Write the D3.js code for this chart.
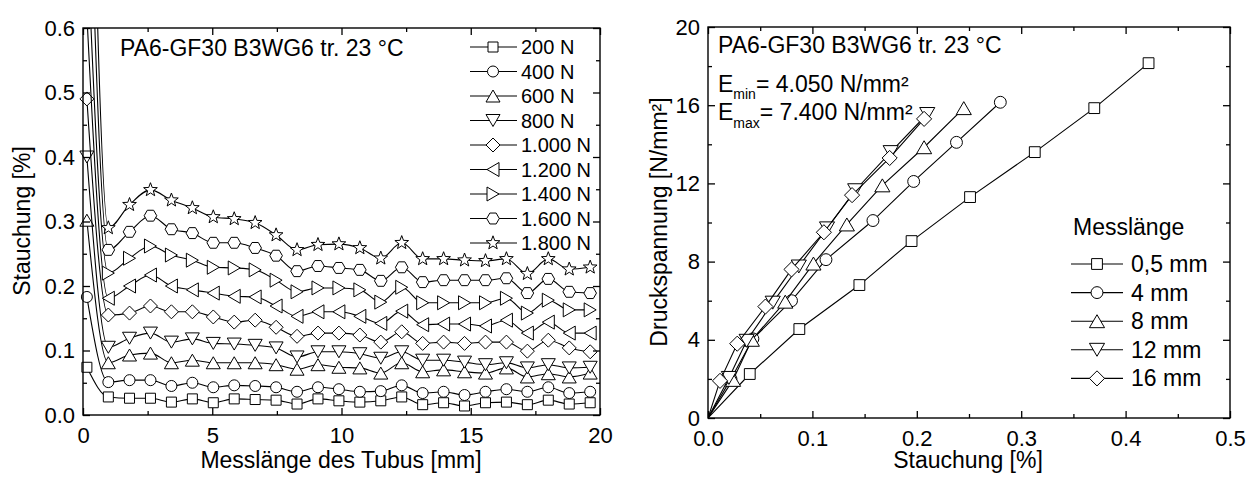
<!DOCTYPE html>
<html>
<head>
<meta charset="utf-8">
<script src="https://cdn.jsdelivr.net/npm/d3@7"></script>
<style>
html, body { margin: 0; padding: 0; background: #fff; }
svg { display: block; font-family: "Liberation Sans", Arial, sans-serif; }
</style>
</head>
<body>
<div id="playground"></div>
<script>
// ---- left chart: strain along the tube, one series per load ----
var tubePos = [0.15, 0.98, 1.8, 2.61, 3.42, 4.23, 5.04, 5.85, 6.66, 7.47, 8.28, 9.09, 9.9,
               10.71, 11.52, 12.33, 13.14, 13.95, 14.76, 15.57, 16.38, 17.19, 18.0, 18.81, 19.62];
var loads = ["200 N", "400 N", "600 N", "800 N", "1.000 N", "1.200 N", "1.400 N", "1.600 N", "1.800 N"];
var loadSymbols = ["square", "circle", "up", "down", "diamond", "left", "right", "hexagon", "star"];

var strain200  = [0.074, 0.028, 0.026, 0.026, 0.020, 0.025, 0.019, 0.025, 0.024, 0.023, 0.017, 0.025, 0.022, 0.020, 0.022, 0.028, 0.016, 0.019, 0.014, 0.019, 0.020, 0.016, 0.023, 0.017, 0.019];
var strain400  = [0.183, 0.051, 0.054, 0.054, 0.045, 0.050, 0.043, 0.046, 0.045, 0.043, 0.036, 0.043, 0.040, 0.036, 0.037, 0.046, 0.034, 0.036, 0.031, 0.036, 0.040, 0.036, 0.043, 0.034, 0.036];
var strain600  = [0.302, 0.081, 0.093, 0.096, 0.081, 0.085, 0.081, 0.081, 0.081, 0.078, 0.071, 0.078, 0.074, 0.073, 0.065, 0.081, 0.067, 0.070, 0.067, 0.065, 0.073, 0.059, 0.064, 0.059, 0.065];
var strain800  = [0.400, 0.105, 0.119, 0.127, 0.113, 0.118, 0.111, 0.110, 0.108, 0.104, 0.090, 0.098, 0.098, 0.095, 0.088, 0.098, 0.085, 0.085, 0.082, 0.078, 0.081, 0.073, 0.078, 0.073, 0.074];
var strain1000 = [0.490, 0.155, 0.158, 0.169, 0.160, 0.160, 0.152, 0.144, 0.147, 0.136, 0.122, 0.127, 0.127, 0.124, 0.113, 0.129, 0.111, 0.113, 0.111, 0.113, 0.113, 0.099, 0.116, 0.104, 0.098];
var strain1200 = [0.62, 0.181, 0.200, 0.217, 0.200, 0.194, 0.189, 0.184, 0.183, 0.169, 0.153, 0.160, 0.160, 0.153, 0.142, 0.161, 0.140, 0.141, 0.141, 0.138, 0.147, 0.127, 0.144, 0.127, 0.127];
var strain1400 = [0.75, 0.220, 0.243, 0.262, 0.248, 0.240, 0.229, 0.228, 0.225, 0.209, 0.191, 0.197, 0.197, 0.194, 0.175, 0.198, 0.174, 0.174, 0.174, 0.174, 0.181, 0.158, 0.178, 0.163, 0.163];
var strain1600 = [0.99, 0.256, 0.284, 0.309, 0.288, 0.282, 0.267, 0.267, 0.259, 0.247, 0.223, 0.231, 0.228, 0.225, 0.208, 0.229, 0.206, 0.209, 0.209, 0.209, 0.212, 0.189, 0.211, 0.191, 0.189];
var strain1800 = [1.30, 0.290, 0.326, 0.349, 0.333, 0.321, 0.307, 0.304, 0.298, 0.279, 0.256, 0.264, 0.265, 0.259, 0.243, 0.267, 0.242, 0.242, 0.240, 0.239, 0.242, 0.219, 0.242, 0.226, 0.229];
var loadSeries = [strain200, strain400, strain600, strain800, strain1000, strain1200, strain1400, strain1600, strain1800];

var leftXTicks = [0, 5, 10, 15, 20];
var leftXMinor = [2.5, 7.5, 12.5, 17.5];
var leftYTicks = [0, 0.1, 0.2, 0.3, 0.4, 0.5, 0.6];
var leftYMinor = [0.05, 0.15, 0.25, 0.35, 0.45, 0.55];

// ---- right chart: stress vs strain, one series per gauge length ----
var gauges = ["0,5 mm", "4 mm", "8 mm", "12 mm", "16 mm"];
var gaugeSymbols = ["square", "circle", "up", "down", "diamond"];

var strainG05 = [0, 0.040, 0.0875, 0.145, 0.195, 0.251, 0.313, 0.370, 0.422];
var stressG05 = [0, 2.25, 4.55, 6.8, 9.05, 11.3, 13.6, 15.85, 18.15];
var strainG4  = [0, 0.022, 0.043, 0.080, 0.113, 0.158, 0.197, 0.238, 0.280];
var stressG4  = [0, 2.0, 4.05, 6.0, 8.1, 10.1, 12.1, 14.1, 16.15];
var strainG8  = [0, 0.024, 0.042, 0.074, 0.101, 0.133, 0.167, 0.207, 0.245];
var stressG8  = [0, 1.95, 4.0, 5.95, 7.9, 9.9, 11.9, 13.85, 15.85];
var strainG12 = [0, 0.020, 0.037, 0.062, 0.087, 0.114, 0.141, 0.175, 0.210];
var stressG12 = [0, 2.05, 3.95, 5.9, 7.75, 9.7, 11.65, 13.6, 15.55];
var strainG16 = [0, 0.0115, 0.028, 0.055, 0.080, 0.111, 0.138, 0.174, 0.207];
var stressG16 = [0, 1.9, 3.8, 5.7, 7.6, 9.5, 11.4, 13.3, 15.3];
var gaugeStrain = [strainG05, strainG4, strainG8, strainG12, strainG16];
var gaugeStress = [stressG05, stressG4, stressG8, stressG12, stressG16];

var rightXTicks = [0, 0.1, 0.2, 0.3, 0.4, 0.5];
var rightXMinor = [0.05, 0.15, 0.25, 0.35, 0.45];
var rightYTicks = [0, 4, 8, 12, 16, 20];
var rightYMinor = [2, 6, 10, 14, 18];

var W = 1258, H = 477;
var svg = d3.select("#playground").append("svg").attr("width", W).attr("height", H);

function markerPath(kind, k) {
    var s, h, pts, i, a;
    switch (kind) {
    case "square":
        s = 5 * k; return "M" + (-s) + "," + (-s) + "H" + s + "V" + s + "H" + (-s) + "Z";
    case "circle":
        s = 5.5 * k; return "M" + s + ",0A" + s + "," + s + " 0 1,1 " + (-s) + ",0A" + s + "," + s + " 0 1,1 " + s + ",0Z";
    case "up":
        s = 7 * k; h = 6 * k; return "M0," + (-h) + "L" + s + "," + h + "L" + (-s) + "," + h + "Z";
    case "down":
        s = 7 * k; h = 6 * k; return "M0," + h + "L" + s + "," + (-h) + "L" + (-s) + "," + (-h) + "Z";
    case "left":
        s = 7 * k; h = 6 * k; return "M" + (-h) + ",0L" + h + "," + (-s) + "L" + h + "," + s + "Z";
    case "right":
        s = 7 * k; h = 6 * k; return "M" + h + ",0L" + (-h) + "," + (-s) + "L" + (-h) + "," + s + "Z";
    case "diamond":
        s = 7 * k; return "M0," + (-s) + "L" + s + ",0L0," + s + "L" + (-s) + ",0Z";
    case "hexagon":
        s = 6.3 * k; pts = [];
        for (i = 0; i < 6; i++) { a = i * Math.PI / 3; pts.push([s * Math.cos(a), s * Math.sin(a)]); }
        return "M" + pts.join("L") + "Z";
    case "star":
        pts = [];
        for (i = 0; i < 10; i++) {
            a = -Math.PI / 2 + i * Math.PI / 5;
            var r = (i % 2 === 0 ? 7.2 : 3.0) * k;
            pts.push([r * Math.cos(a), r * Math.sin(a)]);
        }
        return "M" + pts.join("L") + "Z";
    }
}

function drawFrame(x, y, xt, xm, yt, ym, xf, yf) {
    var g = svg.append("g");
    var x0 = x.range()[0], x1 = x.range()[1], y0 = y.range()[0], y1 = y.range()[1];

    g.append("g").attr("transform", "translate(0," + y0 + ")")
        .call(d3.axisBottom(x).tickValues(xt).tickSize(-7).tickSizeOuter(0).tickPadding(12).tickFormat(xf));
    g.append("g").attr("transform", "translate(0," + y0 + ")")
        .call(d3.axisBottom(x).tickValues(xm).tickSize(-4).tickSizeOuter(0).tickFormat(""));
    g.append("g").attr("transform", "translate(0," + y1 + ")")
        .call(d3.axisTop(x).tickValues(xt).tickSize(-7).tickSizeOuter(0).tickFormat(""));
    g.append("g").attr("transform", "translate(0," + y1 + ")")
        .call(d3.axisTop(x).tickValues(xm).tickSize(-4).tickSizeOuter(0).tickFormat(""));

    g.append("g").attr("transform", "translate(" + x0 + ",0)")
        .call(d3.axisLeft(y).tickValues(yt).tickSize(-7).tickSizeOuter(0).tickPadding(8).tickFormat(yf));
    g.append("g").attr("transform", "translate(" + x0 + ",0)")
        .call(d3.axisLeft(y).tickValues(ym).tickSize(-4).tickSizeOuter(0).tickFormat(""));
    g.append("g").attr("transform", "translate(" + x1 + ",0)")
        .call(d3.axisRight(y).tickValues(yt).tickSize(-7).tickSizeOuter(0).tickFormat(""));
    g.append("g").attr("transform", "translate(" + x1 + ",0)")
        .call(d3.axisRight(y).tickValues(ym).tickSize(-4).tickSizeOuter(0).tickFormat(""));

    g.selectAll(".domain").remove();
    g.selectAll(".tick line").attr("stroke", "#000").attr("stroke-width", 1.3);
    g.selectAll("text").attr("font-size", 22).attr("font-family", null).attr("fill", "#000");

    g.append("rect")
        .attr("x", x0).attr("y", y1).attr("width", x1 - x0).attr("height", y0 - y1)
        .attr("fill", "none").attr("stroke", "#000").attr("stroke-width", 1.4);
    return g;
}

function clipFor(id, x, y) {
    svg.append("clipPath").attr("id", id).append("rect")
        .attr("x", x.range()[0]).attr("y", y.range()[1])
        .attr("width", x.range()[1] - x.range()[0]).attr("height", y.range()[0] - y.range()[1]);
}

// ================= left chart =================
var xL = d3.scaleLinear().domain([0, 20]).range([83, 600]);
var yL = d3.scaleLinear().domain([0, 0.6]).range([415, 28]);
clipFor("clipL", xL, yL);

svg.append("text").attr("x", 120).attr("y", 56).attr("font-size", 23)
    .text("PA6-GF30 B3WG6 tr. 23 °C");

var lineL = d3.line().curve(d3.curveMonotoneX)
    .x(function(d) { return xL(d[0]); })
    .y(function(d) { return yL(d[1]); });

loadSeries.forEach(function(vals, i) {
    var pts = tubePos.map(function(p, j) { return [p, vals[j]]; });
    var g = svg.append("g").attr("class", "series");
    g.append("path").datum(pts)
        .attr("d", lineL).attr("fill", "none").attr("stroke", "#000").attr("stroke-width", 1.1)
        .attr("clip-path", "url(#clipL)");
    g.selectAll("path.mk").data(pts.filter(function(d) { return d[1] <= 0.6; }))
        .enter().append("path").attr("class", "mk")
        .attr("transform", function(d) { return "translate(" + xL(d[0]) + "," + yL(d[1]) + ")"; })
        .attr("d", markerPath(loadSymbols[i], 1))
        .attr("fill", "#fff").attr("stroke", "#000").attr("stroke-width", 1);
});

drawFrame(xL, yL, leftXTicks, leftXMinor, leftYTicks, leftYMinor, d3.format("d"), d3.format(".1f"));

svg.append("text").attr("x", 341).attr("y", 468).attr("text-anchor", "middle").attr("font-size", 23)
    .text("Messlänge des Tubus [mm]");
svg.append("text").attr("transform", "translate(30,221) rotate(-90)").attr("text-anchor", "middle")
    .attr("font-size", 23).text("Stauchung [%]");

// legend left
var legL = svg.append("g");
loads.forEach(function(name, i) {
    var yy = 47 + i * 24.5;
    legL.append("line").attr("x1", 470).attr("x2", 517).attr("y1", yy).attr("y2", yy)
        .attr("stroke", "#000").attr("stroke-width", 1.1);
    legL.append("path").attr("transform", "translate(493," + yy + ")")
        .attr("d", markerPath(loadSymbols[i], 1)).attr("fill", "#fff").attr("stroke", "#000");
    legL.append("text").attr("x", 521).attr("y", yy).attr("dy", "0.35em").attr("font-size", 20).text(name);
});

// ================= right chart =================
var xR = d3.scaleLinear().domain([0, 0.5]).range([708, 1230]);
var yR = d3.scaleLinear().domain([0, 20]).range([418, 27]);
clipFor("clipR", xR, yR);

svg.append("text").attr("x", 718).attr("y", 53).attr("font-size", 23)
    .text("PA6-GF30 B3WG6 tr. 23 °C");
var eMin = svg.append("text").attr("x", 718).attr("y", 92).attr("font-size", 23);
eMin.append("tspan").text("E");
eMin.append("tspan").attr("font-size", 14).attr("dy", 7).text("min");
eMin.append("tspan").attr("dy", -7).text("= 4.050 N/mm²");
var eMax = svg.append("text").attr("x", 718).attr("y", 120).attr("font-size", 23);
eMax.append("tspan").text("E");
eMax.append("tspan").attr("font-size", 14).attr("dy", 8).text("max");
eMax.append("tspan").attr("dy", -8).text("= 7.400 N/mm²");

var lineR = d3.line()
    .x(function(d) { return xR(d[0]); })
    .y(function(d) { return yR(d[1]); });

gaugeStrain.forEach(function(xs, i) {
    var pts = xs.map(function(v, j) { return [v, gaugeStress[i][j]]; });
    var g = svg.append("g").attr("class", "series");
    g.append("path").datum(pts)
        .attr("d", lineR).attr("fill", "none").attr("stroke", "#000").attr("stroke-width", 1.1)
        .attr("clip-path", "url(#clipR)");
    g.selectAll("path.mk").data(pts.slice(1))
        .enter().append("path").attr("class", "mk")
        .attr("transform", function(d) { return "translate(" + xR(d[0]) + "," + yR(d[1]) + ")"; })
        .attr("d", markerPath(gaugeSymbols[i], 1.08))
        .attr("fill", "#fff").attr("stroke", "#000").attr("stroke-width", 1);
});

drawFrame(xR, yR, rightXTicks, rightXMinor, rightYTicks, rightYMinor, d3.format(".1f"), d3.format("d"));

svg.append("text").attr("x", 968).attr("y", 468).attr("text-anchor", "middle").attr("font-size", 23)
    .text("Stauchung [%]");
svg.append("text").attr("transform", "translate(667,222) rotate(-90)").attr("text-anchor", "middle")
    .attr("font-size", 23).text("Druckspannung [N/mm²]");

// legend right
var legR = svg.append("g");
legR.append("text").attr("x", 1073).attr("y", 235).attr("font-size", 23).text("Messlänge");
gauges.forEach(function(name, i) {
    var yy = 264 + i * 28.6;
    legR.append("line").attr("x1", 1071).attr("x2", 1123).attr("y1", yy).attr("y2", yy)
        .attr("stroke", "#000").attr("stroke-width", 1.1);
    legR.append("path").attr("transform", "translate(1097," + yy + ")")
        .attr("d", markerPath(gaugeSymbols[i], 1.08)).attr("fill", "#fff").attr("stroke", "#000");
    legR.append("text").attr("x", 1131).attr("y", yy).attr("dy", "0.35em").attr("font-size", 23).text(name);
});
</script>
</body>
</html>
